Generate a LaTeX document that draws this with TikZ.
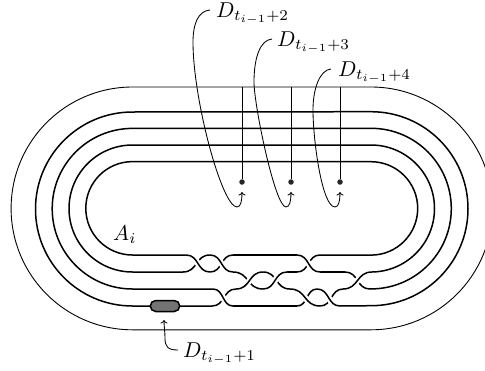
\documentclass[tikz,border=0pt]{standalone}
\usepackage{graphicx}
\usetikzlibrary{arrows.meta}
\newcommand{\Lone}{255}
\newcommand{\Ltwo}{272}
\newcommand{\Lthree}{289}
\newcommand{\Lfour}{306}
\newcommand{\Cl}{132.5}
\newcommand{\Cr}{371}
\newcommand{\Sc}[4]{(#1,#2) .. controls ({#1+0.55*(#3-#1)},#2) and ({#1+0.45*(#3-#1)},#4) .. (#3,#4)}
\tikzset{
  strand/.style={line width=1.5pt,line cap=butt},
  over/.style={strand,preaction={draw,white,line width=6pt}},
  thinline/.style={line width=0.9pt},
  lead/.style={line width=0.85pt,-{To[length=3.5pt,width=7pt]}},
  lab/.style={anchor=base west,inner sep=0pt},
  dotnode/.style={circle,fill=black!85,inner sep=0pt,minimum size=5.5pt},
  blob/.style={draw=black,line width=1.5pt,fill=black!55,rounded corners=5.5pt,minimum width=29.5pt,minimum height=11pt,inner sep=0pt},
}
\begin{document}
\begin{tikzpicture}[x=1pt,y=-1pt]
\useasboundingbox (0,0) rectangle (485,370);
\clip (0,0) rectangle (485,370);
\draw[thinline] (\Cl,87) -- (\Cr,87) arc[start angle=-90,end angle=90,radius=121.4] -- (\Cl,329.8) arc[start angle=90,end angle=270,radius=121.4];
\draw[strand] (186,\Lone) -- (\Cl,\Lone) arc[start angle=90,end angle=270,radius=46.7] -- (\Cr,161.7) arc[start angle=-90,end angle=90,radius=46.7] -- (320,\Lone);
\draw[strand] (183,\Ltwo) -- (\Cl,\Ltwo) arc[start angle=90,end angle=270,radius=63.5] -- (\Cr,145) arc[start angle=-90,end angle=90,radius=63.5] -- (372,\Ltwo);
\draw[strand] (213,\Lthree) -- (\Cl,\Lthree) arc[start angle=90,end angle=270,radius=80.3] -- (\Cr,128.3) arc[start angle=-90,end angle=90,radius=80.3] -- (370,\Lthree);
\draw[strand] (212,\Lfour) -- (\Cl,\Lfour) arc[start angle=90,end angle=270,radius=97] -- (\Cr,111.7) arc[start angle=-90,end angle=90,radius=97] -- (340,\Lfour);
\draw[strand] (233,\Lone) -- (297,\Lone);
\draw[strand] (233,\Lfour) -- (297,\Lfour);
\draw[strand] (287,\Ltwo) -- (297,\Ltwo);
\draw[strand] (320,\Ltwo) -- (345,\Ltwo);
\draw[strand] \Sc{183}{\Ltwo}{210}{\Lone};
\draw[strand] \Sc{210}{\Ltwo}{233}{\Lone};
\draw[strand] \Sc{233}{\Ltwo}{263}{\Lthree};
\draw[strand] \Sc{263}{\Ltwo}{290}{\Lthree};
\draw[strand] \Sc{212}{\Lfour}{236}{\Lthree};
\draw[strand] \Sc{297}{\Ltwo}{320}{\Lone};
\draw[strand] \Sc{297}{\Lfour}{317}{\Lthree};
\draw[strand] \Sc{320}{\Lfour}{343}{\Lthree};
\draw[strand] \Sc{345}{\Ltwo}{370}{\Lthree};
\draw[over] \Sc{186}{\Lone}{210}{\Ltwo};
\draw[over] \Sc{210}{\Lone}{233}{\Ltwo};
\draw[over] \Sc{213}{\Lthree}{233}{\Lfour};
\draw[over] \Sc{236}{\Lthree}{263}{\Ltwo};
\draw[over] \Sc{263}{\Lthree}{287}{\Ltwo};
\draw[over] \Sc{297}{\Lone}{320}{\Ltwo};
\draw[over] \Sc{290}{\Lthree}{320}{\Lfour};
\draw[over] \Sc{317}{\Lthree}{340}{\Lfour};
\draw[over] \Sc{343}{\Lthree}{372}{\Ltwo};
\node[blob] (disc) at (165,306) {};
\node[dotnode] (p2) at (242,182) {};
\node[dotnode] (p3) at (291,182) {};
\node[dotnode] (p4) at (340,182) {};
\coordinate (t2) at (242,87);
\coordinate (t3) at (291,87);
\coordinate (t4) at (340,87);
\draw[thinline] (t2) -- (p2);
\draw[thinline] (t3) -- (p3);
\draw[thinline] (t4) -- (p4);
\node[lab] (Ai) at (113,240) {\scalebox{2.15}{$A_i$}};
\node[lab] (l1) at (183,357) {\scalebox{2.15}{$D_{t_{i-1}+1}$}};
\node[lab] (l2) at (216,17) {\scalebox{2.15}{$D_{t_{i-1}+2}$}};
\node[lab] (l3) at (277,46) {\scalebox{2.15}{$D_{t_{i-1}+3}$}};
\node[lab] (l4) at (338,76) {\scalebox{2.15}{$D_{t_{i-1}+4}$}};
\coordinate (a1) at (164,320);
\coordinate (a2) at (242,192);
\coordinate (a3) at (291,192);
\coordinate (a4) at (340,192);
\coordinate (s1) at (178,350);
\coordinate (s2) at (210,10);
\coordinate (s3) at (272,39);
\coordinate (s4) at (331,69);
\draw[lead] (s1) .. controls (168,350) and (165,347) .. (165,338) .. controls (165,332) and (164,326) .. (a1);
\draw[lead] (s2) .. controls (198,11) and (193,24) .. (193,42) .. controls (193,100) and (222,207) .. (237,207) .. controls (241,207) and (242,200) .. (a2);
\draw[lead] (s3) .. controls (260,40) and (254,58) .. (254,82) .. controls (254,105) and (275,207) .. (286,207) .. controls (290,207) and (291,200) .. (a3);
\draw[lead] (s4) .. controls (320,70) and (313,88) .. (313,110) .. controls (313,140) and (322,207) .. (335,207) .. controls (339,207) and (340,200) .. (a4);
\end{tikzpicture}
\end{document}
